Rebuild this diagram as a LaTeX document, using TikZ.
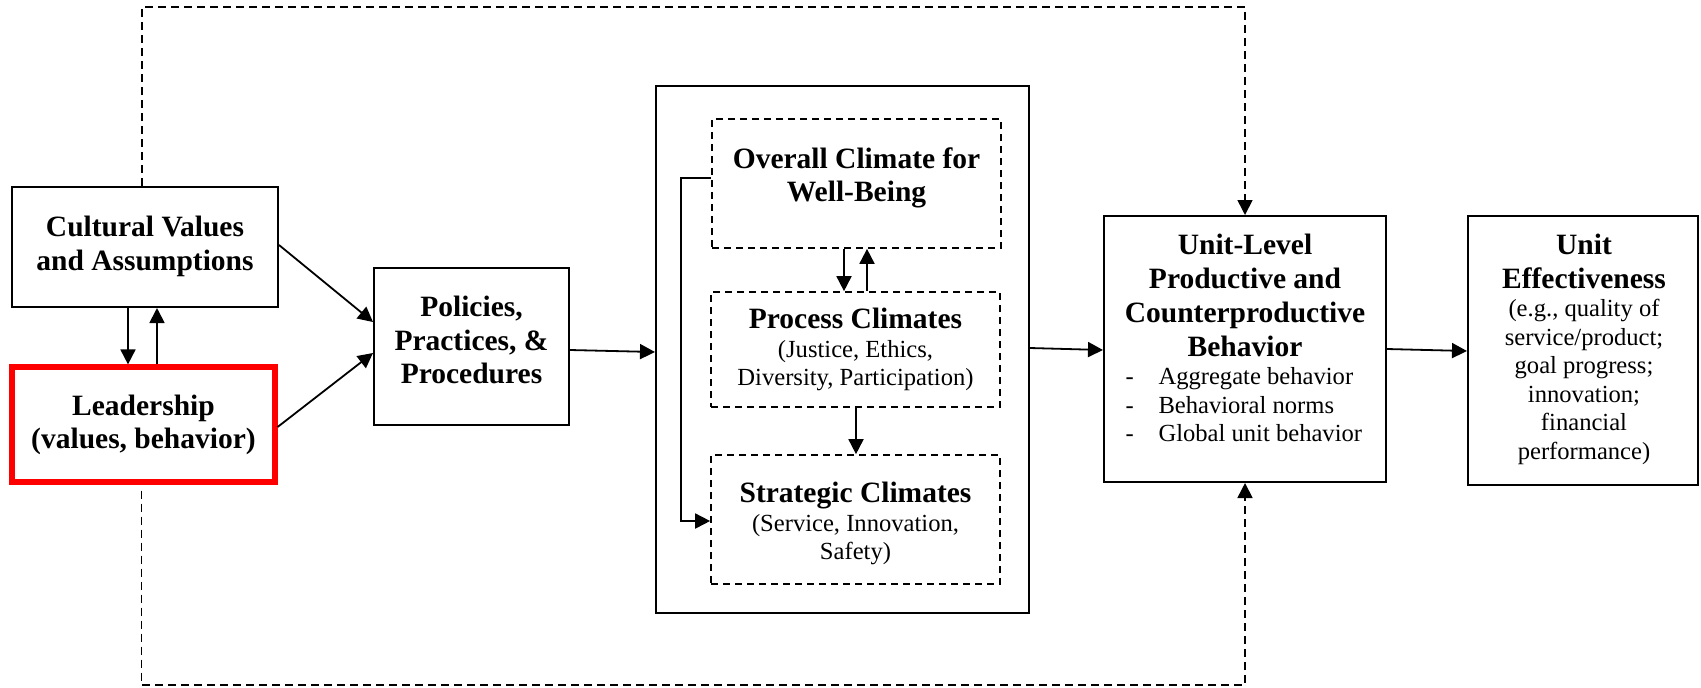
\documentclass[tikz,border=0pt]{standalone}
\usepackage{fontspec}
\setmainfont{Liberation Serif}
\usetikzlibrary{arrows.meta}
\newcommand\ttlfont{\fontsize{14.75}{16.8}\selectfont\bfseries}
\newcommand\subfont{\fontsize{12.3}{14.25}\selectfont}
\newcommand\ttl[1]{{\ttlfont #1}}
\newcommand\listitem[1]{\makebox[119.5pt][l]{\makebox[16.5pt][l]{-}#1}}
\begin{document}
\begin{tikzpicture}[x=0.5pt,y=-0.5pt,
  box/.style={draw, line width=1pt, inner sep=0pt},
  redbox/.style={draw=red, line width=2.6pt, inner sep=0pt},
  dashbox/.style={draw, line width=0.85pt, dash pattern=on 3.5pt off 2.5pt, inner sep=0pt},
  ttltext/.style={inner sep=0pt, align=center, font=\ttlfont},
  subtext/.style={inner sep=0pt, align=center, font=\subfont},
  arr/.style={-{Triangle[length=7.5pt,width=7.5pt]}, line width=0.9pt},
  looparr/.style={arr, line width=0.85pt, dash pattern=on 4pt off 2.5pt}]
\useasboundingbox (0,0) rectangle (1701,687);

% boxes
\node[box, minimum width=133pt, minimum height=60pt] (cult) at (145,247) {};
\node[redbox, minimum width=131.5pt, minimum height=57.5pt] (lead) at (143.5,424.5) {};
\node[box, minimum width=97.5pt, minimum height=78.5pt] (pol) at (471.5,346.5) {};
\node[box, minimum width=186.5pt, minimum height=263.5pt] (outer) at (842.5,349.5) {};
\node[dashbox, minimum width=144.5pt, minimum height=64.5pt] (ov) at (856.5,183.5) {};
\node[dashbox, minimum width=144.5pt, minimum height=57.5pt] (proc) at (855.5,349.5) {};
\node[dashbox, minimum width=144.5pt, minimum height=64.5pt] (strat) at (855.5,519.5) {};
\node[box, minimum width=141pt, minimum height=133pt] (unit) at (1245,349) {};
\node[box, minimum width=115pt, minimum height=134.5pt] (eff) at (1583,350.5) {};

% box texts
\node[ttltext] (cultt) at (145,246.5) {Cultural Values\\and Assumptions};
\node[ttltext] (leadt) at (143.5,424.7) {Leadership\\(values, behavior)};
\node[ttltext] (polt) at (471.5,340) {Policies,\\Practices, \&\\Procedures};
\node[ttltext] (ovt) at (856.5,178) {Overall Climate for\\Well-Being};
\node[subtext] (proct) at (855.5,349.5) {\ttl{Process Climates}\\(Justice, Ethics,\\Diversity, Participation)};
\node[subtext] (stratt) at (855.5,523.5) {\ttl{Strategic Climates}\\(Service, Innovation,\\Safety)};
\node[subtext] (unitt) at (1245,338) {\ttl{Unit-Level}\\[2.75pt]\ttl{Productive and}\\[2.75pt]\ttl{Counterproductive}\\[2.75pt]\ttl{Behavior}\\
  \listitem{Aggregate behavior}\\\listitem{Behavioral norms}\\\listitem{Global unit behavior}};
\node[subtext] (efft) at (1584,349) {\ttl{Unit}\\[2.75pt]\ttl{Effectiveness}\\(e.g., quality of\\service/product;\\goal progress;\\innovation;\\financial\\performance)};

% culture <-> leadership
\draw[arr] ([xshift=-8.5pt]cult.south) -- ([xshift=-8.5pt]cult.south |- lead.north);
\draw[arr] ([xshift=6pt]cult.south |- lead.north) -- ([xshift=6pt]cult.south);

% into policies
\draw[arr] ([yshift=1pt]cult.east) -- ([yshift=12.25pt]pol.west);
\draw[arr] ([yshift=-1.25pt]lead.east) -- ([yshift=-3.25pt]pol.west);

% main chain
\draw[arr] ([yshift=-1.75pt]pol.east) -- ([yshift=-1.25pt]outer.west);
\draw[arr] ([yshift=0.75pt]outer.east) -- ([yshift=-0.5pt]unit.west);
\draw[arr] (unit.east) -- ([yshift=-0.25pt]eff.west);

% links among the climates
\draw[arr] ([xshift=-6.25pt]ov.south) -- ([xshift=-6.25pt]ov.south |- proc.north);
\draw[arr] ([xshift=5.75pt]proc.north) -- ([xshift=5.75pt]proc.north |- ov.south);
\draw[arr] ([xshift=0.25pt]proc.south) -- ([xshift=0.25pt]proc.south |- strat.north);
\coordinate (brk) at (681,0);
\coordinate (b1) at ([yshift=2.75pt]ov.west);
\coordinate (b2) at ([yshift=-0.75pt]strat.west);
\draw[arr] (b1) -- (b1 -| brk) -- (b2 -| brk) -- (b2);

% feedback loops to unit-level behaviour
\coordinate (topy) at (0,7);
\coordinate (boty) at (0,685);
\coordinate (c1) at ([xshift=-1.5pt]cult.north);
\coordinate (c2) at ([xshift=-1pt]lead.south);
\draw[looparr] (c1) -- (c1 |- topy) -- (unit.north |- topy) -- (unit.north);
\draw[looparr] ([yshift=-3pt]c2) -- (c2 |- boty) -- (unit.south |- boty) -- (unit.south);
\end{tikzpicture}
\end{document}
